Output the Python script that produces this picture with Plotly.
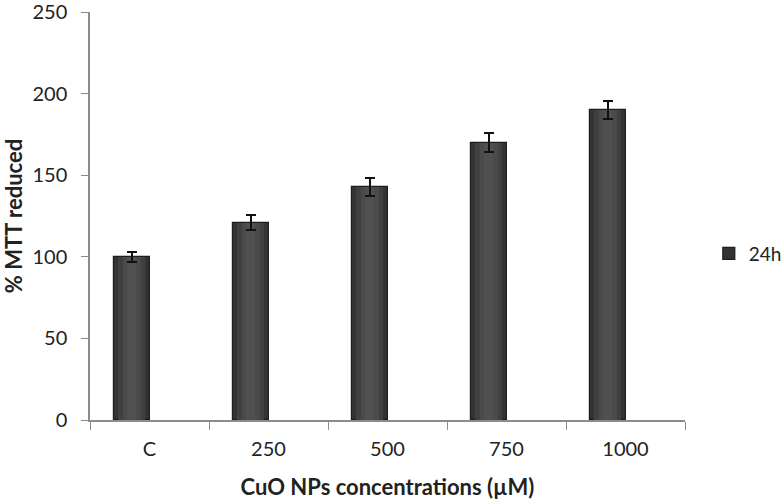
import plotly.graph_objects as go

categories = ["C", "250", "500", "750", "1000"]
mtt_24h = [100, 121, 143, 170, 190]
err_24h = [3, 4.5, 5.5, 6, 5.5]
y_ticks = [0, 50, 100, 150, 200, 250]

FONT = "Lato, Open Sans, sans-serif"
BAR_W = 0.3
layers = [(1.0, "#333333"), (0.75, "#404040"), (0.5, "#4a4a4a"), (0.25, "#505050")]

fig = go.Figure()
for i, (frac, col) in enumerate(layers):
    w = BAR_W * frac
    last = i == len(layers) - 1
    fig.add_trace(go.Bar(
        x=categories, y=mtt_24h, name="24h",
        width=w, offset=-BAR_W + (BAR_W - w) / 2,
        marker=dict(color=col, line=dict(color="#1e1e1e" if i == 0 else col, width=1.2 if i == 0 else 0)),
        showlegend=(i == 0),
        hoverinfo="skip" if i else None,
        error_y=dict(type="data", array=err_24h, color="#111111", thickness=2, width=5) if last else None,
    ))

fig.update_layout(
    width=783, height=500,
    margin=dict(l=90, r=98, t=12, b=80, autoexpand=False),
    paper_bgcolor="white", plot_bgcolor="white",
    font=dict(family=FONT, size=20, color="#222222"),
    showlegend=True, barmode="overlay",
    legend=dict(x=1.04, y=0.408, xanchor="left", yanchor="middle",
                font=dict(size=19), bgcolor="rgba(0,0,0,0)"),
    bargap=0,
)
fig.update_xaxes(
    showline=True, linecolor="#8c8c8c", linewidth=1.5,
    ticks="outside", tickson="boundaries", ticklen=8, tickcolor="#8c8c8c",
    showgrid=False, zeroline=False, automargin=False,
    tickfont=dict(size=20), ticklabelstandoff=10, ticklabeloverflow="allow",
    title=dict(text="<b>CuO NPs concentrations (µM)</b>", font=dict(size=22), standoff=21),
)
fig.update_yaxes(
    range=[0, 250], tickvals=y_ticks,
    showline=True, linecolor="#8c8c8c", linewidth=1.5,
    ticks="outside", ticklen=7, tickcolor="#8c8c8c",
    showgrid=False, zeroline=False, automargin=False,
    tickfont=dict(size=20), ticklabelstandoff=10, ticklabeloverflow="allow",
    title=dict(text="<b>% MTT reduced</b>", font=dict(size=22), standoff=14),
)

fig.write_html("out.html", config={"displayModeBar": False},
               post_script="document.body.style.margin='0';")
